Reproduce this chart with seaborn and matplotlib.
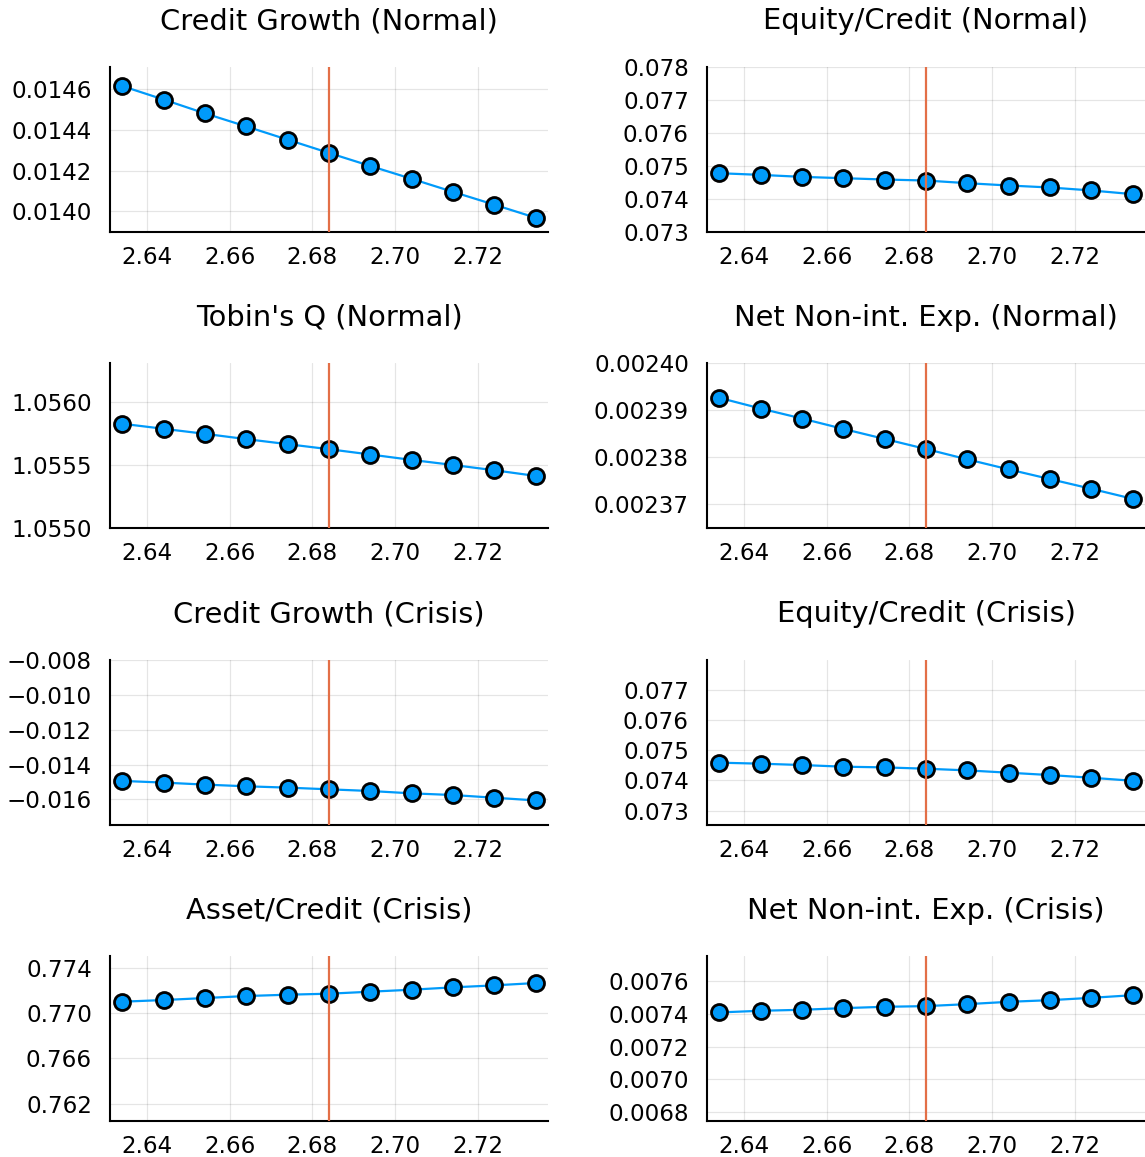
import matplotlib
matplotlib.use("Agg")
import matplotlib.pyplot as plt
import seaborn as sns
import pandas as pd
from matplotlib.ticker import FixedLocator, FuncFormatter

# Data
x_vals = [2.634, 2.644, 2.654, 2.664, 2.674, 2.684, 2.694, 2.704, 2.714, 2.724, 2.734]
x_mark = 2.684

credit_growth_normal = [0.014615, 0.014549, 0.014481, 0.014417, 0.014352, 0.014287,
                        0.014223, 0.014160, 0.014096, 0.014033, 0.013969]
equity_credit_normal = [0.074781, 0.074730, 0.074670, 0.074630, 0.074590, 0.074559,
                        0.074479, 0.074408, 0.074348, 0.074258, 0.074147]
tobins_q_normal = [1.055828, 1.055788, 1.055748, 1.055706, 1.055666, 1.055626,
                   1.055584, 1.055541, 1.055501, 1.055459, 1.055414]
net_nonint_normal = [0.00239262, 0.00239035, 0.00238823, 0.00238603, 0.00238390, 0.00238177,
                     0.00237957, 0.00237745, 0.00237539, 0.00237333, 0.00237121]
credit_growth_crisis = [-0.014940, -0.015036, -0.015152, -0.015248, -0.015325, -0.015422,
                        -0.015518, -0.015653, -0.015749, -0.015904, -0.016058]
equity_credit_crisis = [0.074589, 0.074556, 0.074511, 0.074456, 0.074433, 0.074389,
                        0.074333, 0.074256, 0.074178, 0.074089, 0.073989]
asset_credit_crisis = [0.771000, 0.771147, 0.771324, 0.771500, 0.771618, 0.771706,
                       0.771882, 0.772059, 0.772265, 0.772441, 0.772647]
net_nonint_crisis = [0.0074081, 0.0074182, 0.0074242, 0.0074343, 0.0074424, 0.0074465,
                     0.0074586, 0.0074727, 0.0074828, 0.0074970, 0.0075130]

titles = ["Credit Growth (Normal)", "Equity/Credit (Normal)",
          "Tobin's Q (Normal)", "Net Non-int. Exp. (Normal)",
          "Credit Growth (Crisis)", "Equity/Credit (Crisis)",
          "Asset/Credit (Crisis)", "Net Non-int. Exp. (Crisis)"]
series = [credit_growth_normal, equity_credit_normal, tobins_q_normal, net_nonint_normal,
          credit_growth_crisis, equity_credit_crisis, asset_credit_crisis, net_nonint_crisis]

x_ticks = [2.64, 2.66, 2.68, 2.70, 2.72]
y_ticks = [
    [0.0140, 0.0142, 0.0144, 0.0146],
    [0.073, 0.074, 0.075, 0.076, 0.077, 0.078],
    [1.0550, 1.0555, 1.0560],
    [0.00237, 0.00238, 0.00239, 0.00240],
    [-0.016, -0.014, -0.012, -0.010, -0.008],
    [0.073, 0.074, 0.075, 0.076, 0.077],
    [0.762, 0.766, 0.770, 0.774],
    [0.0068, 0.0070, 0.0072, 0.0074, 0.0076],
]
y_decimals = [4, 3, 4, 5, 3, 3, 3, 4]
y_limits = [
    (0.013899, 0.014709),
    (0.073, 0.078),
    (1.0550, 1.05631),
    (0.002365, 0.00240),
    (-0.017465, -0.008),
    (0.072522, 0.078),
    (0.760471, 0.77503),
    (0.006747, 0.0077515),
]

sns.set_theme(style="white")
plt.rcParams["font.family"] = ["DejaVu Sans"]

fig = plt.figure(figsize=(11.45, 11.57), dpi=100)

col_left = [0.0961, 0.6175]
col_width = 0.3825
row_bottom = [0.7995, 0.5436, 0.2870, 0.0311]
row_height = 0.1426

for i, (title, vals) in enumerate(zip(titles, series)):
    r, c = divmod(i, 2)
    ax = fig.add_axes([col_left[c], row_bottom[r], col_width, row_height])
    df = pd.DataFrame({"x": x_vals, "y": vals})
    sns.lineplot(data=df, x="x", y="y", ax=ax, color="#009AFA", linewidth=1.6,
                 marker="o", markersize=11.5, markeredgecolor="black",
                 markeredgewidth=2.0, zorder=2)
    ax.axvline(x_mark, color="#E36F47", linewidth=1.6, zorder=3)

    ax.set_xlim(2.631, 2.737)
    ax.set_ylim(*y_limits[i])
    ax.xaxis.set_major_locator(FixedLocator(x_ticks))
    ax.yaxis.set_major_locator(FixedLocator(y_ticks[i]))
    ax.xaxis.set_major_formatter(FuncFormatter(lambda v, p: f"{v:.2f}"))
    d = y_decimals[i]
    ax.yaxis.set_major_formatter(
        FuncFormatter(lambda v, p, d=d: f"{v:.{d}f}".replace("-", "\u2212")))

    ax.grid(True, color="black", alpha=0.1, linewidth=0.9)
    for side in ["top", "right"]:
        ax.spines[side].set_visible(False)
    for side in ["left", "bottom"]:
        ax.spines[side].set_color("black")
        ax.spines[side].set_linewidth(1.5)
    ax.tick_params(axis="both", direction="in", length=7, width=1.3, color="black",
                   labelsize=16.6, labelcolor="black")
    ax.tick_params(axis="x", pad=10)
    ax.tick_params(axis="y", pad=13)
    ax.set_xlabel("")
    ax.set_ylabel("")
    ax.set_title(title, fontsize=20.8, pad=27, color="black")

fig.savefig("out.png", dpi=100)
